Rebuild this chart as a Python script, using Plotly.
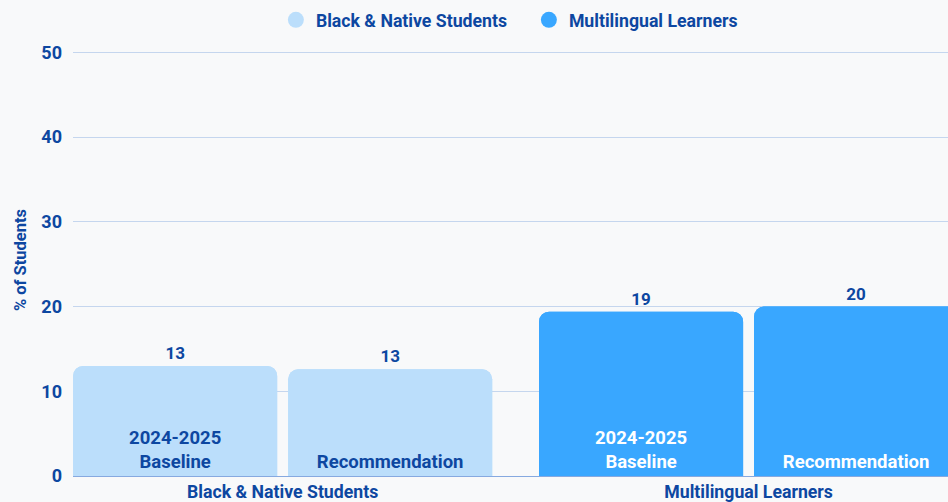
import plotly.graph_objects as go

# Data
categories = ["Black & Native Students", "Multilingual Learners"]
baseline = [13.0, 19.4]
recommendation = [12.6, 20.0]
series_labels = ["2024-2025<br>Baseline", "Recommendation"]
y_ticks = [0, 10, 20, 30, 40, 50]

# Styling
TEXT_BLUE = "#0d47a1"
LIGHT_BLUE = "#bbdefb"
BRIGHT_BLUE = "#39a7ff"
BG = "#f8f9fa"
GRID = "#c5d6ee"
bar_colors = [LIGHT_BLUE, BRIGHT_BLUE]
inside_text_colors = [TEXT_BLUE, "#ffffff"]
FONT = "Roboto"

fig = go.Figure()

for group, values, label in [("base", baseline, series_labels[0]),
                             ("rec", recommendation, series_labels[1])]:
    # value labels above each bar
    fig.add_trace(go.Bar(
        x=categories, y=values, offsetgroup=group,
        marker=dict(color=bar_colors, line=dict(width=0)),
        texttemplate="%{y:.0f}", textposition="outside", cliponaxis=False,
        textfont=dict(family=FONT, size=17, color=TEXT_BLUE, weight="bold"),
        showlegend=False, hoverinfo="skip",
    ))
    # series name inside the bar, near its base
    fig.add_trace(go.Bar(
        x=categories, y=values, offsetgroup=group,
        marker=dict(color=bar_colors, line=dict(width=0)),
        text=[label] * len(categories), textposition="inside",
        insidetextanchor="start", textangle=0,
        textfont=dict(family=FONT, size=18.5, color=inside_text_colors, weight="bold"),
        showlegend=False, hovertemplate="%{x}<br>%{y}<extra></extra>",
    ))

# Legend entries drawn as circles
for name, color in zip(categories, bar_colors):
    fig.add_trace(go.Scatter(
        x=[None], y=[None], mode="markers", name=name,
        marker=dict(size=16, color=color, symbol="circle"),
    ))

fig.update_layout(
    width=948, height=502,
    margin=dict(l=73, r=0, t=44, b=24),
    paper_bgcolor=BG, plot_bgcolor=BG,
    font=dict(family=FONT, size=17.7, color=TEXT_BLUE, weight="bold"),
    barmode="group", bargap=0.077, bargroupgap=0.051,
    barcornerradius=10,
    legend=dict(orientation="h", x=0.521, xanchor="center", y=1.012, yanchor="bottom",
                entrywidth=208, entrywidthmode="pixels",
                font=dict(family=FONT, size=17.7, color=TEXT_BLUE, weight="bold"),
                bgcolor="rgba(0,0,0,0)"),
    xaxis=dict(range=[-0.45, 1.428], showgrid=False, zeroline=False,
               showline=True, linecolor="#86a9e0", linewidth=1,
               tickfont=dict(family=FONT, size=17.7, color=TEXT_BLUE, weight="bold"),
               ticklabelstandoff=0),
    yaxis=dict(range=[0, 51], tickvals=y_ticks, showgrid=True,
               gridcolor=GRID, gridwidth=1,
               zeroline=False, showline=False, ticklabelstandoff=10,
               tickfont=dict(family=FONT, size=18, color=TEXT_BLUE, weight="bold"),
               title=dict(text="% of Students", standoff=10,
                          font=dict(family=FONT, size=16.5, color=TEXT_BLUE, weight="bold"))),
)

fig.write_html("out.html")
